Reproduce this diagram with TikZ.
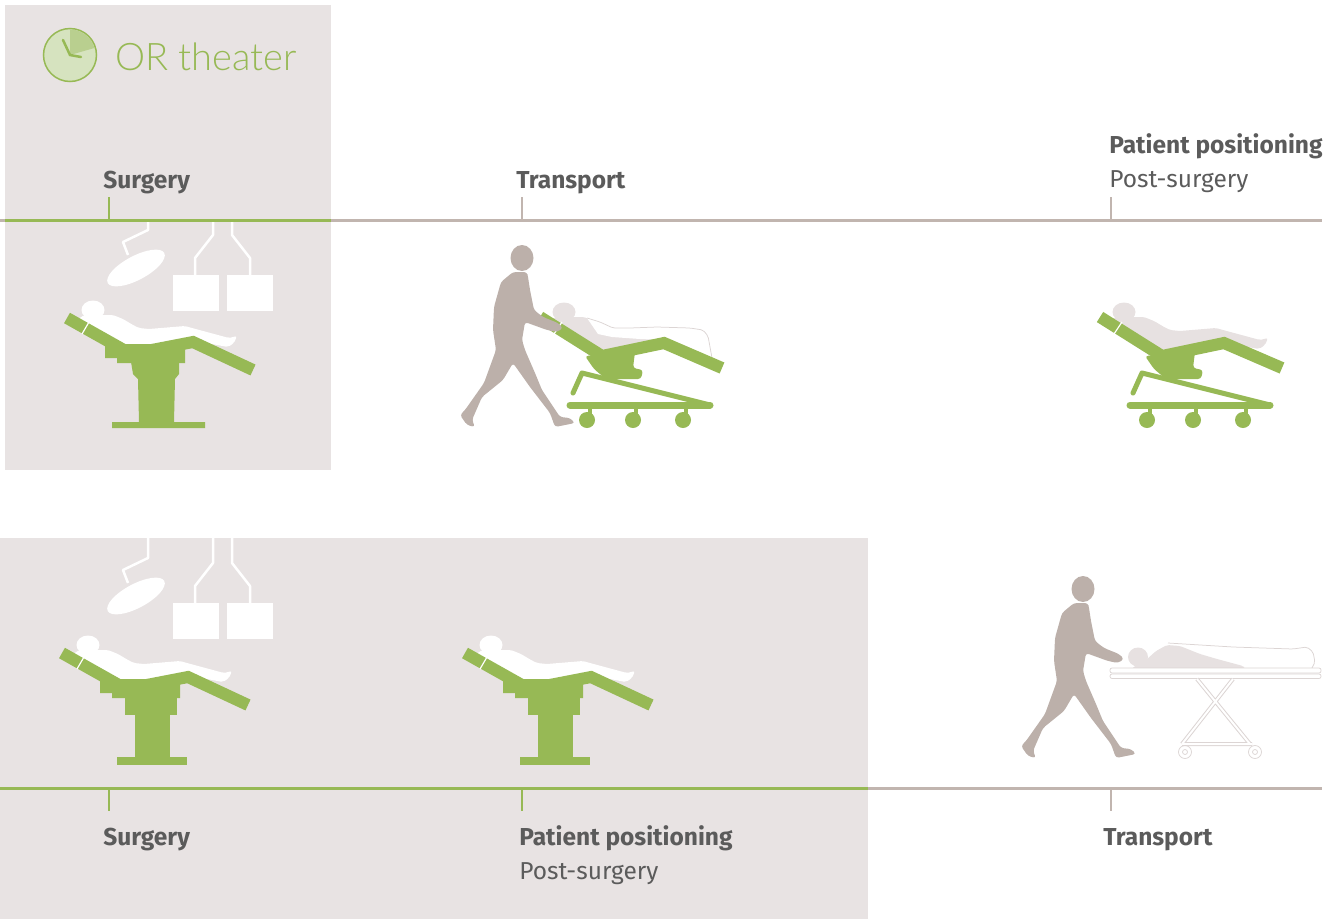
\documentclass[tikz,border=0pt]{standalone}
\usepackage{fontspec}
\setmainfont{Fira Sans}
\IfFontExistsTF{Lato Light}{\newfontfamily\orlight{Lato Light}}{\newfontfamily\orlight{Fira Sans}}

\definecolor{orgreen}{HTML}{97B955}
\definecolor{orshade}{HTML}{E8E3E3}
\definecolor{linegray}{HTML}{C1B5AF}
\definecolor{walkgray}{HTML}{BCB0AA}
\definecolor{patgray}{HTML}{E7E1E1}
\definecolor{sheetline}{HTML}{DCD5D4}
\definecolor{txtgray}{HTML}{5B5B5B}
\definecolor{clockfill}{HTML}{D6E3BF}
\definecolor{clockwedge}{HTML}{B9CF8F}

\tikzset{every picture/.style={line width=0.75pt}}
\tikzset{
  lblbold/.style={font=\fontsize{24.5}{28}\selectfont\bfseries, text=txtgray, inner sep=0pt, anchor=base west},
  lblreg/.style={font=\fontsize{24.5}{28}\selectfont, text=txtgray, inner sep=0pt, anchor=base west},
  tline/.style={line width=3, color=linegray},
  gline/.style={line width=3, color=orgreen},
  tickmark/.style={line width=2},
  armline/.style={white, line width=2.5, line join=round},
  pics/orlamp/.style={code={
    \draw[armline] (0,-#1) -- (0,0) -- (-25,12) -- (-20,25);
    \fill[white, rotate around={-28:(-12,38)}] (-12,38) ellipse [x radius=32, y radius=12];
    \draw[armline] (65,-#1) -- (65,5) -- (47,28) -- (47,45);
    \draw[armline] (84,-#1) -- (84,5) -- (102,28) -- (102,45);
    \fill[white] (25,45) rectangle (71,81);
    \fill[white] (79,45) rectangle (125,81);
  }},
  pics/patient/.style={code={
    \fill[#1] (-38,-44) ellipse [x radius=11.5, y radius=9.5];
    \fill[#1, rounded corners=2] (-54,-30) -- (-50,-38) -- (-28,-39) -- (-18,-39) -- (-8,-35) -- (2,-29) -- (8,-26) -- (18,-25) -- (54,-28) -- (61,-26) -- (98,-16) -- (106,-18) -- (103,-11) -- (97,-7) -- (70,-12) -- (0,0) -- cycle;
  }},
  pics/orchair/.style={code={
    \fill[orgreen] (-26,-10) -- (-26,4) -- (-14,4) -- (-14,9) -- (54,9) -- (54,-10) -- cycle;
    \draw[orgreen, line width=12, line join=miter] (-64,-36) -- (0,0) -- (62,-12) -- (122,16);
    \draw[white, line width=1.2] (-49,-20) -- (-42,-32);
  }},
  pics/orbase/.style={code={
    \fill[orgreen] (-1,9) rectangle (51,26);
    \fill[orgreen] (9,26) rectangle (44,68);
    \fill[orgreen] (-9,68) rectangle (61,76);
  }},
  pics/orpedestal/.style={code={
    \fill[orgreen] (0,8) -- (48,8) -- (48,20) -- (44,25) -- (43,68) -- (74,68) -- (74,74) -- (-19,74) -- (-19,68) -- (8,68) -- (7,25) -- (2,20) -- cycle;
  }},
  pics/mobilechair/.style={code={
    \fill[orgreen, rounded corners=3] (-17,0) -- (-8,13) -- (4,23) -- (39,23) -- (41,14) -- (31,12) -- (33,-4) -- cycle;
    \draw[orgreen, line width=5, line cap=round, line join=round] (-29,37) -- (-20,17) -- (108,49);
    \draw[orgreen, line width=7, line cap=round] (-32,49) -- (108,49);
    \foreach \wx in {-15,31,81} {
      \fill[orgreen] (\wx+1,49) rectangle (\wx+5,60);
      \fill[orgreen] (\wx,64) circle [radius=8];
    }
    \draw[orgreen, line width=12, line join=miter] (-62,-39) -- (0,0) -- (62,-13) -- (120,12);
    \draw[white, line width=1.2] (-48,-22) -- (-40,-34);
  }},
  pics/walker/.style={code={
    \fill[walkgray] (0,0) ellipse [x radius=11.5, y radius=13];
    \fill[walkgray, rounded corners=3] (-9,14) -- (-21,24) -- (-28,49) -- (-29,72) -- (-26,92) -- (-38,125) -- (-57,152) -- (-62,157) -- (-55,167) -- (-47,169) -- (-50,162) -- (-40,139) -- (-19,122) -- (-9,105) -- (8,129) -- (28,155) -- (33,169) -- (53,165) -- (48,160) -- (38,159) -- (20,132) -- (13,115) -- (3,92) -- (0,82) -- (3,64) -- (25,72) -- (35,74) -- (41,70) -- (36,65) -- (21,59) -- (12,52) -- (8,32) -- (6,19) -- (5,14) -- cycle;
  }}
}

\begin{document}
\begin{tikzpicture}[x=1pt,y=1pt,yscale=-1,xscale=1,every pic/.style={yscale=-1}]
\useasboundingbox (0,0) rectangle (1336,919);

%Shape: Rectangle [id:orpanelTop]
\fill[orshade] (5,5) rectangle (331,470);
%Shape: Rectangle [id:orpanelBottom]
\fill[orshade] (0,538) rectangle (868,919);

%Shape: Circle [id:clock]
\filldraw[fill=clockfill, draw=orgreen, line width=1.5] (70,55) circle [radius=26.5];
\fill[clockwedge] (70,55) -- (70,29.5) arc [start angle=-90, end angle=-16, radius=25.5] -- cycle;
\draw[orgreen, line width=2.5, line cap=round] (63,40) -- (70,55) -- (81,57);
% Text Node
\draw (115,70) node (ortitle) [anchor=base west, inner sep=0pt, font=\orlight\fontsize{38}{42}\selectfont, text=orgreen] {OR theater};

%Shape: OR lamps
\pic at (148,230) {orlamp=10};
\pic at (148,558) {orlamp=20};

%Shape: OR chairs
\pic at (131,354) {patient=white};
\pic at (131,354) {orchair};
\pic at (131,354) {orpedestal};
\pic at (126,689) {patient=white};
\pic at (126,689) {orchair};
\pic at (126,689) {orbase};
\pic at (529,689) {patient=white};
\pic at (529,689) {orchair};
\pic at (529,689) {orbase};

%Shape: transport chair with sheet
\pic at (602,356) {patient=patgray};
\begin{scope}[shift={(602,356)}]
\fill[white] (-15,-38) -- (-2,-34) -- (11,-28) -- (28,-28) -- (55,-29) -- (88,-28) -- (101,-26) -- (106,-20) -- (110,2) -- (62,-16) -- (38,-17) -- (10,-19) -- (-4,-22) -- cycle;
\draw[sheetline, rounded corners=2] (-15,-38) -- (-2,-34) -- (11,-28) -- (28,-28) -- (55,-29) -- (88,-28) -- (101,-26) -- (106,-20) -- (110,2);
\end{scope}
\pic at (602,356) {mobilechair};
\pic at (522,258) {walker};

%Shape: post-surgery chair
\pic at (1162,356) {patient=patgray};
\pic at (1162,356) {mobilechair};

%Shape: stretcher
\fill[white] (1168,643) -- (1233,647) -- (1293,649) -- (1307,647) -- (1313,652) -- (1315,662) -- (1312,668) -- (1160,668) -- cycle;
\draw[sheetline, rounded corners=2] (1168,643) -- (1233,647) -- (1293,649) -- (1307,647) -- (1313,652) -- (1315,662) -- (1312,668);
\fill[patgray] (1138,657) ellipse [x radius=10, y radius=9.5];
\fill[patgray, rounded corners=2] (1132,668) -- (1146,660) -- (1156,651) -- (1167,645) -- (1180,646) -- (1200,654) -- (1217,659) -- (1243,666) -- (1245,668) -- cycle;
\filldraw[fill=white, draw=sheetline, rounded corners=2] (1110,668) rectangle (1321,673);
\filldraw[fill=white, draw=sheetline, rounded corners=2] (1110,674) rectangle (1321,678.5);
\draw[sheetline, line width=4] (1197,679) -- (1250,744) (1233,679) -- (1182,744) (1182,744) -- (1252,744);
\draw[white, line width=2] (1197,679) -- (1250,744) (1233,679) -- (1182,744) (1182,744) -- (1252,744);
\draw[sheetline] (1185,752) circle [radius=6.5] (1185,752) circle [radius=2.5];
\draw[sheetline] (1255,752) circle [radius=6.5] (1255,752) circle [radius=2.5];
\pic at (1083,589) {walker};

%Shape: timelines
\draw[tline] (0,220) -- (1322,220);
\draw[gline] (5,220) -- (331,220);
\draw[orgreen, tickmark] (109,197) -- (109,220);
\draw[linegray, tickmark] (522,197) -- (522,220);
\draw[linegray, tickmark] (1111,197) -- (1111,220);
\draw[tline] (868,788) -- (1322,788);
\draw[gline] (0,788) -- (868,788);
\draw[orgreen, tickmark] (109,788) -- (109,811);
\draw[orgreen, tickmark] (522,788) -- (522,811);
\draw[linegray, tickmark] (1111,788) -- (1111,811);

% Text Node
\draw (103,188) node (surgeryTop) [lblbold] {Surgery};
% Text Node
\draw (516,188) node (transportTop) [lblbold] {Transport};
% Text Node
\draw (1109,153) node (positionTop) [lblbold] {Patient positioning};
% Text Node
\draw (1109,187) node (postTop) [lblreg] {Post-surgery};
% Text Node
\draw (103,845) node (surgeryBot) [lblbold] {Surgery};
% Text Node
\draw (519,845) node (positionBot) [lblbold] {Patient positioning};
% Text Node
\draw (519,879) node (postBot) [lblreg] {Post-surgery};
% Text Node
\draw (1103,845) node (transportBot) [lblbold] {Transport};

\end{tikzpicture}
\end{document}
